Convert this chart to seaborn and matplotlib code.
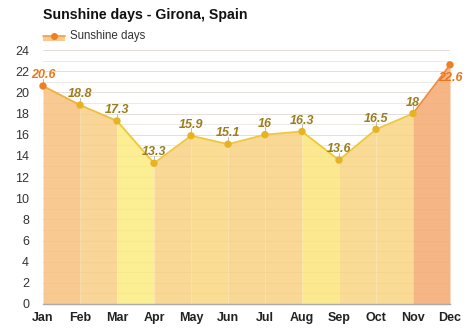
import matplotlib
matplotlib.use("Agg")
import matplotlib.pyplot as plt
import seaborn as sns
import pandas as pd
import numpy as np

months = ["Jan", "Feb", "Mar", "Apr", "May", "Jun", "Jul", "Aug", "Sep", "Oct", "Nov", "Dec"]
sunshine_days = [20.6, 18.8, 17.3, 13.3, 15.9, 15.1, 16.0, 16.3, 13.6, 16.5, 18.0, 22.6]
value_labels = ["20.6", "18.8", "17.3", "13.3", "15.9", "15.1", "16", "16.3", "13.6", "16.5", "18", "22.6"]
y_ticks = list(range(0, 25, 2))

seg_fill = ["#f8c990", "#f9d597", "#fcee93", "#f9d795", "#fadc92", "#f9d795",
            "#f9d795", "#fce98f", "#f9db95", "#f9db95", "#f6b584"]
seg_line = ["#f0b040", "#eec040", "#eec73a", "#eec73a", "#eec73a", "#eec73a",
            "#eec73a", "#eec73a", "#eec73a", "#eec73a", "#f08c40"]
pt_color = ["#ee7f22"] + ["#e6b422"] * 10 + ["#ee7f22"]
lbl_color = ["#e8781e"] + ["#9c7c1c"] * 10 + ["#e8781e"]

sns.set_theme(style="white")
plt.rcParams["font.family"] = ["Liberation Sans", "DejaVu Sans"]

df = pd.DataFrame({"x": np.arange(len(months)), "y": sunshine_days})

fig = plt.figure(figsize=(4.74, 3.31), dpi=100)
ax = fig.add_axes([43 / 474, 1 - 304 / 331, (450 - 43) / 474, (304 - 50) / 331])

for i in range(len(months) - 1):
    seg = df.iloc[i:i + 2]
    ax.fill_between(seg["x"], 0, seg["y"], color=seg_fill[i], lw=0, zorder=1)
    sns.lineplot(data=seg, x="x", y="y", ax=ax, color=seg_line[i], lw=1.3, zorder=3, legend=False)

# gridlines
for v in np.arange(1, 25, 1):
    ax.axhline(v, color="#e6e6e6" if v % 2 == 0 else "#f0f0f0", lw=0.7, zorder=0)
    ax.axhline(v, color="#d8a060", lw=0.5, alpha=0.12, zorder=2)

pts = sns.scatterplot(data=df, x="x", y="y", ax=ax, hue="x", palette=pt_color, s=28,
                      edgecolor="none", zorder=6, legend=False)
for coll in ax.collections:
    coll.set_clip_on(False)

last = len(months) - 1
for i, (xv, yv) in enumerate(zip(df["x"], df["y"])):
    if i == last:
        ax.annotate(value_labels[i], (xv, yv), xytext=(0, -5), textcoords="offset points",
                    ha="center", va="top", fontsize=9, fontweight="bold",
                    fontstyle="italic", color=lbl_color[i], zorder=5, annotation_clip=False)
        continue
    ax.plot([xv, xv], [yv, yv + 0.7], color="#bbbbbb", lw=0.7, zorder=3)
    ax.annotate(value_labels[i], (xv, yv), xytext=(0, 3.5), textcoords="offset points",
                ha="center", va="bottom", fontsize=9, fontweight="bold",
                fontstyle="italic", color=lbl_color[i], zorder=5, annotation_clip=False)

ax.set_xlim(0, 11)
ax.set_ylim(0, 24)
ax.set_xticks(df["x"])
ax.set_xticklabels(months, fontsize=9, fontweight="bold", color="#222222")
ax.set_yticks(y_ticks)
ax.set_yticklabels([str(t) for t in y_ticks], fontsize=9, color="#333333")
ax.tick_params(axis="x", length=0, pad=6)
ax.tick_params(axis="y", length=0, pad=10)
ax.set_xlabel("")
ax.set_ylabel("")
for s in ["top", "right", "left"]:
    ax.spines[s].set_visible(False)
ax.spines["bottom"].set_color("#aaaaaa")
ax.spines["bottom"].set_linewidth(1.0)
ax.set_facecolor("none")

fig.text(43 / 474, 1 - 15 / 331, "Sunshine days - Girona, Spain", fontsize=10.2,
         fontweight="bold", va="center", ha="left", color="#111111")
# legend
lx0, lx1, ly = 43 / 474, 65 / 474, 1 - 36 / 331
fig.patches.append(plt.Rectangle((lx0, ly - 5 / 331), lx1 - lx0, 5 / 331,
                                 transform=fig.transFigure, color="#f8c990", lw=0))
fig.lines.append(plt.Line2D([lx0, lx1], [ly, ly], transform=fig.transFigure,
                            color="#f0a040", lw=1.2))
fig.lines.append(plt.Line2D([(lx0 + lx1) / 2], [ly], transform=fig.transFigure,
                            marker="o", ms=4, color="#ee7f22", lw=0))
fig.text(70 / 474, ly, "Sunshine days", fontsize=8.3, va="center", ha="left", color="#333333")

fig.savefig("out.png", dpi=100)
